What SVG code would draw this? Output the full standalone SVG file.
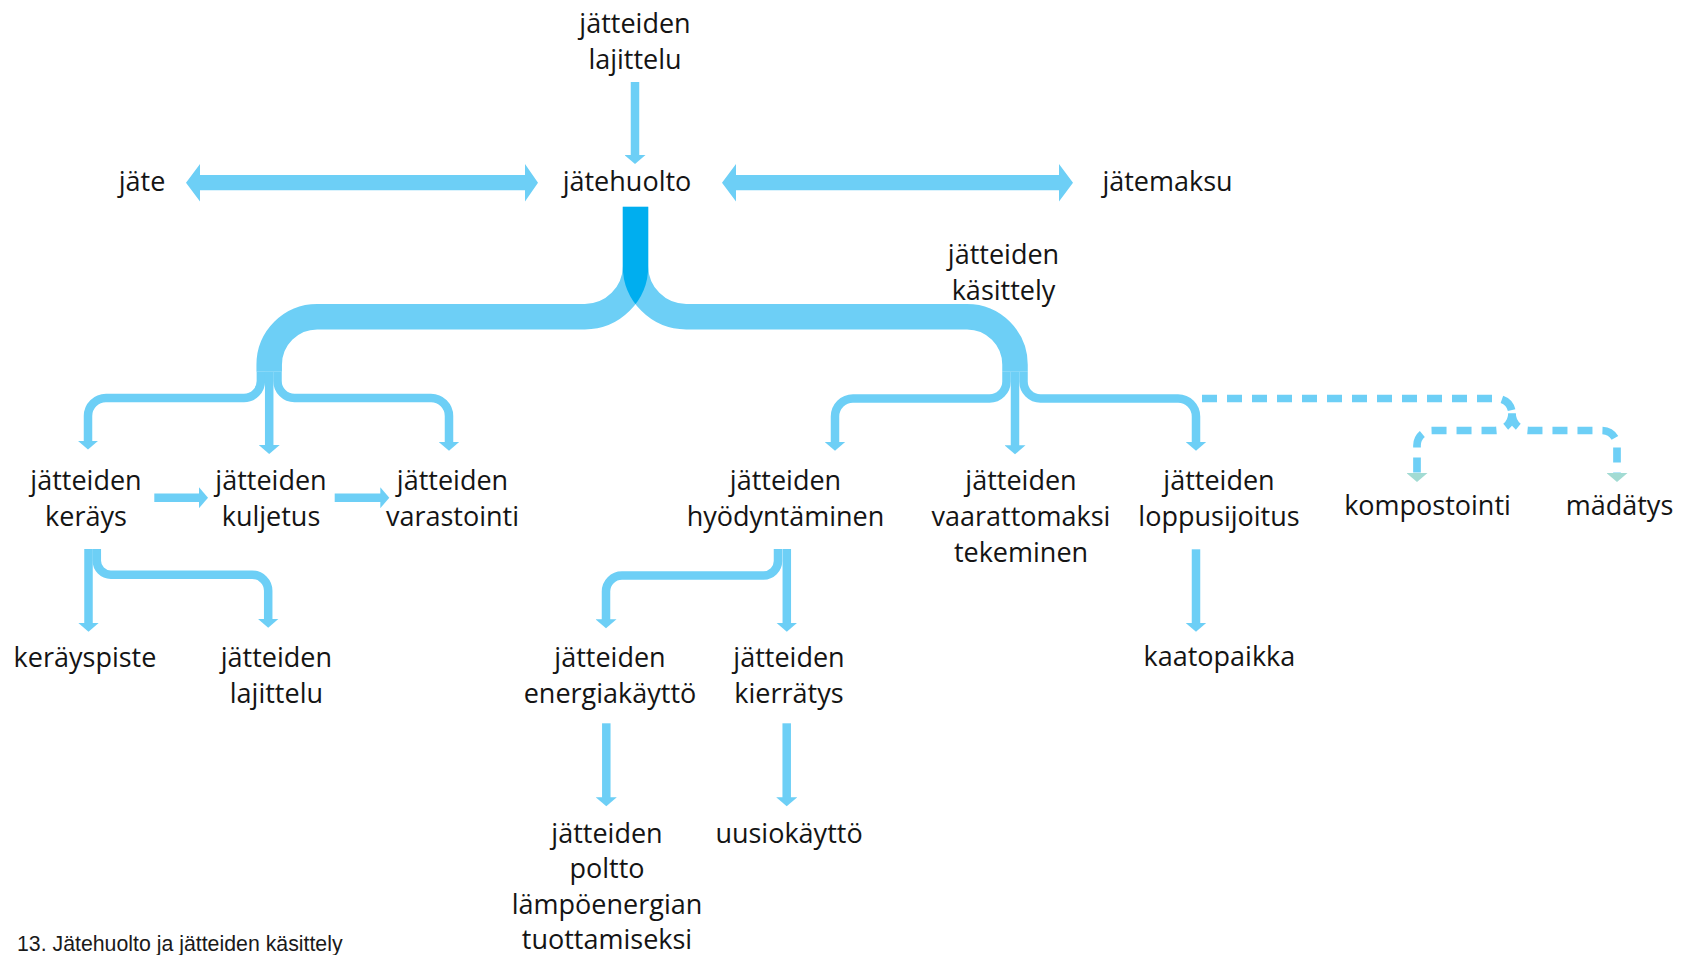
<svg xmlns="http://www.w3.org/2000/svg" width="1694" height="955" viewBox="0 0 1694 955">
  <style>
    .lbl { font-family: "Open Sans", "Noto Sans", sans-serif; font-size: 27px; fill: #141414; text-anchor: middle; }
    .cap { font-family: "Liberation Sans", Arial, sans-serif; font-size: 21.3px; fill: #1a1a1a; }
    .band { fill: none; stroke: #6dcff6; stroke-width: 25.5; }
    .link { fill: none; stroke: #6dcff6; stroke-width: 8.5; }
    .dash { fill: none; stroke: #6dcff6; stroke-width: 7.7; stroke-dasharray: 15 10; }
    .dbl { fill: #6dcff6; }
  </style>
  <defs>
    <marker id="head" markerUnits="userSpaceOnUse" viewBox="-1 0 10 21" markerWidth="10" markerHeight="21" refX="0" refY="10.5" orient="auto">
      <path d="M-1,0 L8,10.5 L-1,21 Z" fill="#6dcff6"/>
    </marker>
    <marker id="headTeal" markerUnits="userSpaceOnUse" viewBox="-1 0 10 21" markerWidth="10" markerHeight="21" refX="0" refY="10.5" orient="auto">
      <path d="M-1,0 L8,10.5 L-1,21 Z" fill="#a2dbd3"/>
    </marker>
    <!-- left half of the main fork, used to darken where both halves overlap -->
    <mask id="leftBandMask" maskUnits="userSpaceOnUse" x="0" y="0" width="1694" height="955">
      <path d="M635.5,206.7 V266 A50.7,50.7 0 0 1 584.8,316.7 H317.2 A48,48 0 0 0 269.2,364.7 V371.7" fill="none" stroke="#fff" stroke-width="25.5"/>
    </mask>
  </defs>

  <g id="connectors">
    <!-- feed into waste management -->
    <path class="link" d="M635,82 V156" marker-end="url(#head)"/>

    <!-- two-way arrows -->
    <polygon class="dbl" points="186,182.7 200,164 200,175 525,175 525,164 538,182.7 525,201.5 525,190.3 200,190.3 200,201.5"/>
    <polygon class="dbl" points="722,182.7 736,164 736,175 1059,175 1059,164 1073,182.7 1059,201.5 1059,190.3 736,190.3 736,201.5"/>

    <!-- main fork -->
    <path class="band" d="M635.5,206.7 V266 A50.7,50.7 0 0 1 584.8,316.7 H317.2 A48,48 0 0 0 269.2,364.7 V371.7"/>
    <path class="band" d="M635.5,206.7 V266 A50.7,50.7 0 0 0 686.2,316.7 H967 A48,48 0 0 1 1015,364.7 V371.7"/>
    <path d="M635.5,206.7 V266 A50.7,50.7 0 0 0 686.2,316.7 H967 A48,48 0 0 1 1015,364.7 V371.7" fill="none" stroke="#00aeef" stroke-width="25.5" mask="url(#leftBandMask)"/>

    <!-- left fork: collection, transport, storage -->
    <path class="link" d="M260.9,371.7 V381 A17,17 0 0 1 243.9,398 H106 A18,18 0 0 0 88,416 V441.5" marker-end="url(#head)"/>
    <path class="link" d="M269.2,371.7 V446" marker-end="url(#head)"/>
    <path class="link" d="M277.5,371.7 V381 A17,17 0 0 0 294.5,398 H431 A18,18 0 0 1 449,416 V442.7" marker-end="url(#head)"/>

    <!-- right fork: recovery, neutralisation, final disposal -->
    <path class="link" d="M1006.5,371.7 V381.5 A17,17 0 0 1 989.5,398.5 H853 A18,18 0 0 0 835,416.5 V442.7" marker-end="url(#head)"/>
    <path class="link" d="M1015,371.7 V446.3" marker-end="url(#head)"/>
    <path class="link" d="M1023.5,371.7 V381.5 A17,17 0 0 0 1040.5,398.5 H1178 A18,18 0 0 1 1196,416.5 V442.7" marker-end="url(#head)"/>

    <!-- dashed branch: composting and digestion -->
    <path class="dash" d="M1202,398.5 H1497 A15,15 0 0 1 1512,413.5"/>
    <path class="dash" d="M1512,413.5 A17,17 0 0 1 1495,430.5 H1432 A15,15 0 0 0 1417,445.5 V474" marker-end="url(#headTeal)"/>
    <path class="dash" d="M1512,413.5 A17,17 0 0 0 1529,430.5 H1602 A15,15 0 0 1 1617,445.5 V474" marker-end="url(#headTeal)"/>

    <!-- chain along the second row -->
    <path class="link" d="M154.3,497.7 H200" marker-end="url(#head)"/>
    <path class="link" d="M334.7,497.7 H381.3" marker-end="url(#head)"/>

    <!-- below collection -->
    <path class="link" d="M88.5,549 V623.7" marker-end="url(#head)"/>
    <path class="link" d="M96.8,549 V560.5 A14,14 0 0 0 110.8,574.7 H252.2 A16,16 0 0 1 268.2,590.7 V619.7" marker-end="url(#head)"/>

    <!-- below recovery -->
    <path class="link" d="M778,549 V561 A14.5,14.5 0 0 1 763.5,575.5 H622 A16,16 0 0 0 606,591.5 V620.3" marker-end="url(#head)"/>
    <path class="link" d="M786.8,549 V623.7" marker-end="url(#head)"/>

    <!-- below final disposal -->
    <path class="link" d="M1196,549.3 V623.7" marker-end="url(#head)"/>

    <!-- third row downwards -->
    <path class="link" d="M606.3,723.3 V798.3" marker-end="url(#head)"/>
    <path class="link" d="M786.7,723.3 V798.3" marker-end="url(#head)"/>
  </g>

  <g id="node-lajittelu-top"><text class="lbl"><tspan x="635" y="32.5">jätteiden</tspan><tspan x="635" y="69">lajittelu</tspan></text></g>
  <g id="node-jate"><text class="lbl" x="142" y="190.5">jäte</text></g>
  <g id="node-jatehuolto"><text class="lbl" x="627" y="190.5">jätehuolto</text></g>
  <g id="node-jatemaksu"><text class="lbl" x="1167.5" y="190.5">jätemaksu</text></g>
  <g id="node-kasittely"><text class="lbl"><tspan x="1003.5" y="264.3">jätteiden</tspan><tspan x="1003.5" y="299.5">käsittely</tspan></text></g>

  <g id="node-keruu"><text class="lbl"><tspan x="86" y="490">jätteiden</tspan><tspan x="86" y="526">keräys</tspan></text></g>
  <g id="node-kuljetus"><text class="lbl"><tspan x="271" y="490">jätteiden</tspan><tspan x="271" y="526">kuljetus</tspan></text></g>
  <g id="node-varastointi"><text class="lbl"><tspan x="452.5" y="490">jätteiden</tspan><tspan x="452.5" y="526">varastointi</tspan></text></g>
  <g id="node-hyodyntaminen"><text class="lbl"><tspan x="785.5" y="490">jätteiden</tspan><tspan x="785.5" y="526">hyödyntäminen</tspan></text></g>
  <g id="node-vaarattomaksi"><text class="lbl"><tspan x="1021" y="490">jätteiden</tspan><tspan x="1021" y="526">vaarattomaksi</tspan><tspan x="1021" y="562">tekeminen</tspan></text></g>
  <g id="node-loppusijoitus"><text class="lbl"><tspan x="1219" y="490">jätteiden</tspan><tspan x="1219" y="526">loppusijoitus</tspan></text></g>
  <g id="node-kompostointi"><text class="lbl" x="1427.5" y="515">kompostointi</text></g>
  <g id="node-madatys"><text class="lbl" x="1619.5" y="515">mädätys</text></g>

  <g id="node-kerayspiste"><text class="lbl" x="85" y="667">keräyspiste</text></g>
  <g id="node-lajittelu"><text class="lbl"><tspan x="276.4" y="667">jätteiden</tspan><tspan x="276.4" y="703">lajittelu</tspan></text></g>
  <g id="node-energiakaytto"><text class="lbl"><tspan x="610" y="667">jätteiden</tspan><tspan x="610" y="703">energiakäyttö</tspan></text></g>
  <g id="node-kierratys"><text class="lbl"><tspan x="789" y="667">jätteiden</tspan><tspan x="789" y="703">kierrätys</tspan></text></g>
  <g id="node-kaatopaikka"><text class="lbl" x="1219.4" y="666">kaatopaikka</text></g>

  <g id="node-poltto"><text class="lbl"><tspan x="607" y="842.5">jätteiden</tspan><tspan x="607" y="878">poltto</tspan><tspan x="607" y="913.5">lämpöenergian</tspan><tspan x="607" y="949">tuottamiseksi</tspan></text></g>
  <g id="node-uusiokaytto"><text class="lbl" x="789" y="842.5">uusiokäyttö</text></g>

  <g id="caption"><text class="cap" x="17" y="950.5">13. Jätehuolto ja jätteiden käsittely</text></g>
</svg>
